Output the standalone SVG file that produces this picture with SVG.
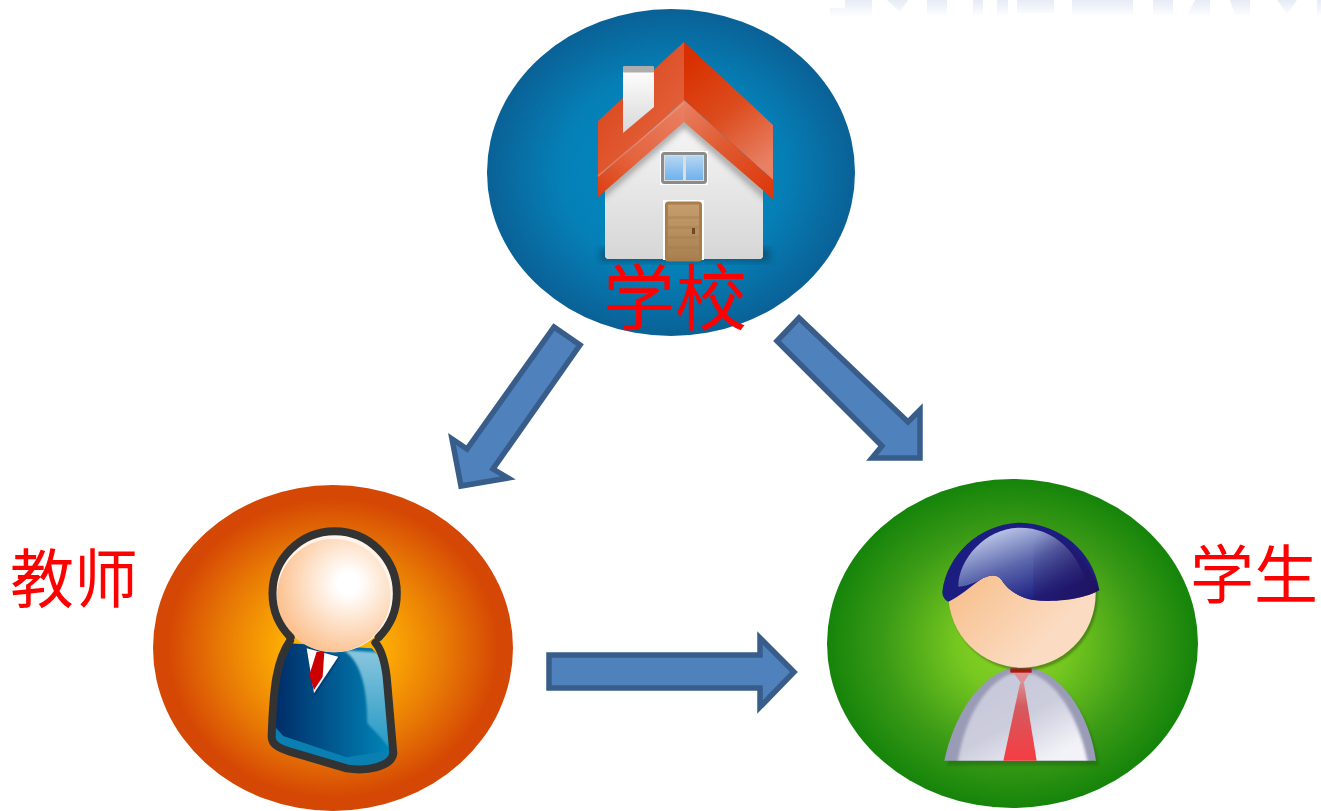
<svg xmlns="http://www.w3.org/2000/svg" width="1321" height="811" viewBox="0 0 1321 811">
<style>
.arrow{fill:#4f81bd;stroke:#385d8a;stroke-width:5.500;stroke-linejoin:miter}
.label{fill:#ff0000;font-family:"Noto Sans CJK SC",sans-serif}
.dark{fill:none;stroke:#333;stroke-width:24;stroke-linejoin:round;stroke-linecap:round}
</style>
<defs>
<radialGradient id="gBlue" cx="50%" cy="50%" r="50%"><stop offset="0" stop-color="#0089c4"/><stop offset=".6" stop-color="#0580b7"/><stop offset="1" stop-color="#0a6196"/></radialGradient>
<radialGradient id="gOrange" cx="50%" cy="50%" r="50%"><stop offset="0" stop-color="#ffb800"/><stop offset=".28" stop-color="#fdac04"/><stop offset=".62" stop-color="#e87a05"/><stop offset=".92" stop-color="#d54704"/><stop offset="1" stop-color="#d54704"/></radialGradient>
<radialGradient id="gGreen" cx="50%" cy="50%" r="50%"><stop offset="0" stop-color="#8dd625"/><stop offset=".3" stop-color="#75c720"/><stop offset=".7" stop-color="#3a9a16"/><stop offset="1" stop-color="#15840a"/></radialGradient>
<linearGradient id="gFaint" gradientUnits="userSpaceOnUse" x1="0" y1="0" x2="0" y2="17"><stop offset="0" stop-color="#e6ebf5"/><stop offset="1" stop-color="#ffffff"/></linearGradient>
<linearGradient id="gRoofL" gradientUnits="userSpaceOnUse" x1="610" y1="90" x2="680" y2="140"><stop offset="0" stop-color="#db4a20"/><stop offset="1" stop-color="#e4643e"/></linearGradient>
<linearGradient id="gRoofR" gradientUnits="userSpaceOnUse" x1="690" y1="60" x2="770" y2="160"><stop offset="0" stop-color="#d93000"/><stop offset=".5" stop-color="#dc4c1e"/><stop offset="1" stop-color="#e88064"/></linearGradient>
<linearGradient id="gBandL" gradientUnits="userSpaceOnUse" x1="684" y1="100" x2="598" y2="197"><stop offset="0" stop-color="#e98165"/><stop offset=".6" stop-color="#e4643e"/><stop offset="1" stop-color="#dc3e10"/></linearGradient>
<linearGradient id="gBandR" gradientUnits="userSpaceOnUse" x1="684" y1="100" x2="773" y2="199"><stop offset="0" stop-color="#e98165"/><stop offset=".45" stop-color="#e05a30"/><stop offset="1" stop-color="#dc3608"/></linearGradient>
<linearGradient id="gWall" x1="0" y1="0" x2="0" y2="1"><stop offset="0" stop-color="#f8f8f8"/><stop offset="1" stop-color="#d6d6d6"/></linearGradient>
<linearGradient id="gChim" x1="0" y1="0" x2="0" y2="1"><stop offset="0" stop-color="#ffffff"/><stop offset="1" stop-color="#d8d8d8"/></linearGradient>
<linearGradient id="gGlass" x1="0" y1="0" x2="0" y2="1"><stop offset="0" stop-color="#b5d6f2"/><stop offset="1" stop-color="#6fb1ee"/></linearGradient>
<linearGradient id="gDoor" x1="0" y1="0" x2="0" y2="1"><stop offset="0" stop-color="#c79d6e"/><stop offset="1" stop-color="#a8804f"/></linearGradient>
<radialGradient id="gFace1" gradientUnits="userSpaceOnUse" cx="625" cy="310" r="215"><stop offset="0" stop-color="#ffffff"/><stop offset=".15" stop-color="#ffffff"/><stop offset="1" stop-color="#fcc291"/></radialGradient>
<linearGradient id="gSuit" x1="0" y1="0" x2="1" y2="0"><stop offset="0" stop-color="#002a66"/><stop offset="1" stop-color="#0088ba"/></linearGradient>
<linearGradient id="gSuitHi" x1="0" y1="0" x2="0" y2="1"><stop offset="0" stop-color="#8ac6de"/><stop offset="1" stop-color="#1c95c2"/></linearGradient>
<linearGradient id="gFace2" x1="0" y1="0" x2="1" y2="1"><stop offset=".25" stop-color="#f8c08e"/><stop offset=".75" stop-color="#fbdcc3"/></linearGradient>
<linearGradient id="gHair" gradientUnits="userSpaceOnUse" x1="560" y1="155" x2="640" y2="375"><stop offset="0" stop-color="#bcc6e8"/><stop offset=".5" stop-color="#5a66ac"/><stop offset="1" stop-color="#1c1d80"/></linearGradient>
<linearGradient id="gHairDark" gradientUnits="userSpaceOnUse" x1="640" y1="200" x2="838" y2="330"><stop offset="0" stop-color="#2a1a60" stop-opacity="0"/><stop offset="1" stop-color="#20105a" stop-opacity=".8"/></linearGradient>
<linearGradient id="gShirt" gradientUnits="userSpaceOnUse" x1="560" y1="640" x2="680" y2="857"><stop offset="0" stop-color="#c8c9da"/><stop offset=".4" stop-color="#cccddc"/><stop offset="1" stop-color="#f2f2f8"/></linearGradient>
<linearGradient id="gTie" x1="0" y1="0" x2="0" y2="1"><stop offset="0" stop-color="#d98d91"/><stop offset=".3" stop-color="#d45a60"/><stop offset="1" stop-color="#f53d42"/></linearGradient>
<filter id="soft" x="-20%" y="-20%" width="140%" height="140%"><feGaussianBlur stdDeviation="3"/></filter>
<filter id="soft2" x="-20%" y="-20%" width="140%" height="140%"><feGaussianBlur stdDeviation="5"/></filter>
<clipPath id="wallClip"><polygon points="605,180 684,115 763,180 763,259 605,259"/></clipPath>
<clipPath id="faceClip"><rect x="350" y="250" width="520" height="340"/></clipPath>
<clipPath id="shirtClip"><path d="M373 857C400 730 470 610 570 580H640C740 610 810 730 828 857Z"/></clipPath>
<clipPath id="suitClip"><path d="M445 490C410 540 400 620 395 770C395 795 420 805 450 815L620 865C680 875 755 860 760 820L740 590C735 550 715 525 695 505Z"/></clipPath>
</defs>

<g id="faint-band" fill="url(#gFaint)">
<polygon points="830,16 872,16 872,0 845,0 845,8 830,8"/>
<polygon points="887,0 908,0 900,12"/>
<rect x="927" y="0" width="20" height="15"/>
<rect x="973" y="0" width="10" height="15"/>
<rect x="997" y="0" width="11" height="15"/>
<rect x="1017" y="0" width="37" height="13"/>
<polygon points="1072,15 1133,15 1133,0 1072,0"/>
<rect x="1153" y="0" width="20" height="15"/>
<polygon points="1187,15 1210,15 1210,0 1195,0"/>
<polygon points="1230,0 1250,0 1250,15 1235,15"/>
<polygon points="1277,0 1297,0 1287,14"/>
<rect x="1317" y="0" width="4" height="15"/>
</g>

<g id="node-school">
<ellipse cx="671" cy="172.500" rx="184" ry="163.500" fill="url(#gBlue)"/>
<rect x="600" y="248" width="170" height="14" fill="#0a2a40" opacity=".4" filter="url(#soft)"/>
<polygon points="605,180 684,115 763,180 763,257 761,259 607,259 605,257" fill="url(#gWall)"/>
<g clip-path="url(#wallClip)"><polyline points="600,196 684,122 770,199" fill="none" stroke="#8a8a8a" stroke-width="7" filter="url(#soft)" opacity=".8"/></g>
<polygon points="598,121 684,42 684,100 598,178" fill="url(#gRoofL)"/>
<polygon points="684,42 773,125 773,180 684,100" fill="url(#gRoofR)"/>
<polygon points="598,178 684,100 684,122 598,197" fill="url(#gBandL)"/>
<polygon points="684,100 773,180 773,199 684,122" fill="url(#gBandR)"/>
<polyline points="598,176 684,103" fill="none" stroke="#f0a08a" stroke-width="1.500" opacity=".55"/>
<polygon points="623,68 654,68 654,107 623,133" fill="url(#gChim)"/>
<rect x="623" y="66" width="31" height="6.500" rx="1" fill="#adadad"/>
<rect x="660" y="151" width="48" height="34" fill="#fff"/>
<rect x="662.500" y="153.500" width="43" height="29" rx="2" fill="#ddd" stroke="#8b8b8b" stroke-width="3"/>
<rect x="665" y="156" width="18" height="24" fill="url(#gGlass)"/>
<rect x="686" y="156" width="17" height="24" fill="url(#gGlass)"/>
<rect x="663" y="200" width="41" height="60" fill="#fff"/>
<rect x="666.500" y="203" width="34" height="57" rx="2" fill="url(#gDoor)" stroke="#a87d4c" stroke-width="3"/>
<g fill="#a27a4a" opacity=".35"><rect x="668" y="216" width="31" height="3"/><rect x="668" y="226" width="31" height="3"/><rect x="668" y="236" width="31" height="3"/><rect x="668" y="246" width="31" height="3"/></g>
<rect x="692" y="228" width="3" height="6" fill="#6b4a25"/>
<text class="label" x="603" y="324" font-size="72">学校</text>
</g>

<g id="node-teacher">
<ellipse cx="333" cy="648" rx="180" ry="163" fill="url(#gOrange)"/>
<g transform="translate(140 480) scale(.33333)">
<path d="M445 490C410 540 400 620 395 770C395 795 420 805 450 815L620 865C680 875 755 860 760 820L740 590C735 550 715 525 695 505Z" fill="url(#gSuit)"/>
<g clip-path="url(#suitClip)">
<path d="M610 510C665 545 682 630 682 730L720 770L770 830L745 520Z" fill="url(#gSuitHi)" filter="url(#soft)"/>
<path d="M400 735L430 768L620 832L745 812L770 880L400 880Z" fill="#0a7fb2"/>
</g>
<path class="dark" d="M450 482C410 540 400 620 395 770C395 795 420 805 450 815L620 865C680 875 755 860 760 820L740 590C735 550 725 510 706 488"/>
<polygon points="497,505 600,530 522,655" fill="#003f7a"/>
<polygon points="500,505 595,530 522,640" fill="#fff"/>
<polygon points="530,515 553,515 548,590 522,630 508,585" fill="#cc0000"/>
<circle cx="584" cy="340" r="177" fill="#fff3ea"/>
<circle cx="581" cy="347" r="170" fill="url(#gFace1)"/>
<path class="dark" d="M452 472A186.500 186.500 0 1 1 716 472"/>
</g>
<text class="label" x="10" y="602" font-size="64">教师</text>
</g>

<g id="node-student">
<ellipse cx="1012.500" cy="643.500" rx="185.500" ry="164.500" fill="url(#gGreen)"/>
<g transform="translate(820 475) scale(.33333)">
<path d="M373 857C400 730 470 610 570 580H640C740 610 810 730 828 857Z" fill="#184d0a" opacity=".35" filter="url(#soft2)" transform="translate(8 14)"/>
<path d="M373 857C400 730 470 610 570 580H640C740 610 810 730 828 857Z" fill="#9a9bb6"/>
<g clip-path="url(#shirtClip)"><path d="M412 870C430 740 490 630 570 597H640C720 630 780 740 805 870Z" fill="url(#gShirt)" filter="url(#soft2)"/></g>
<polygon points="580,592 630,592 607,630" fill="#dd9095"/>
<polygon points="600,625 612,625 650,857 550,857" fill="url(#gTie)"/>
<rect x="571" y="580" width="64" height="13" fill="#bb1111"/>
<circle cx="612" cy="365" r="221" fill="#30520f" opacity=".5" clip-path="url(#faceClip)" filter="url(#soft)"/>
<circle cx="606" cy="357" r="221" fill="url(#gFace2)" clip-path="url(#faceClip)"/>
<path d="M367 350C380 240 480 145 600 143C720 145 820 230 838 345C810 365 720 385 640 375C590 365 560 340 545 315C530 295 505 300 480 315C450 335 420 365 385 380C375 375 367 365 367 350Z" fill="#1c1d80"/>
<path d="M415 335C415 250 500 158 600 158C700 158 780 230 805 345C770 365 710 378 640 375C590 365 560 340 545 315C530 295 505 300 480 315C460 325 435 335 415 335Z" fill="url(#gHair)"/>
<path d="M640 160C720 170 800 240 838 345C810 365 720 385 640 375Z" fill="url(#gHairDark)"/>
</g>
<text class="label" x="1190" y="598" font-size="64">学生</text>
</g>

<g id="connectors">
<polygon class="arrow" points="554,327 580,345 493,469 508,478 461,486 452,439 467,449"/>
<polygon class="arrow" points="799,318 777,341 882,446 872,458 920,458 920,410 908,422"/>
<polygon class="arrow" points="549,655 760,655 760,638 794,672 760,707 760,688 549,688"/>
</g>
</svg>
